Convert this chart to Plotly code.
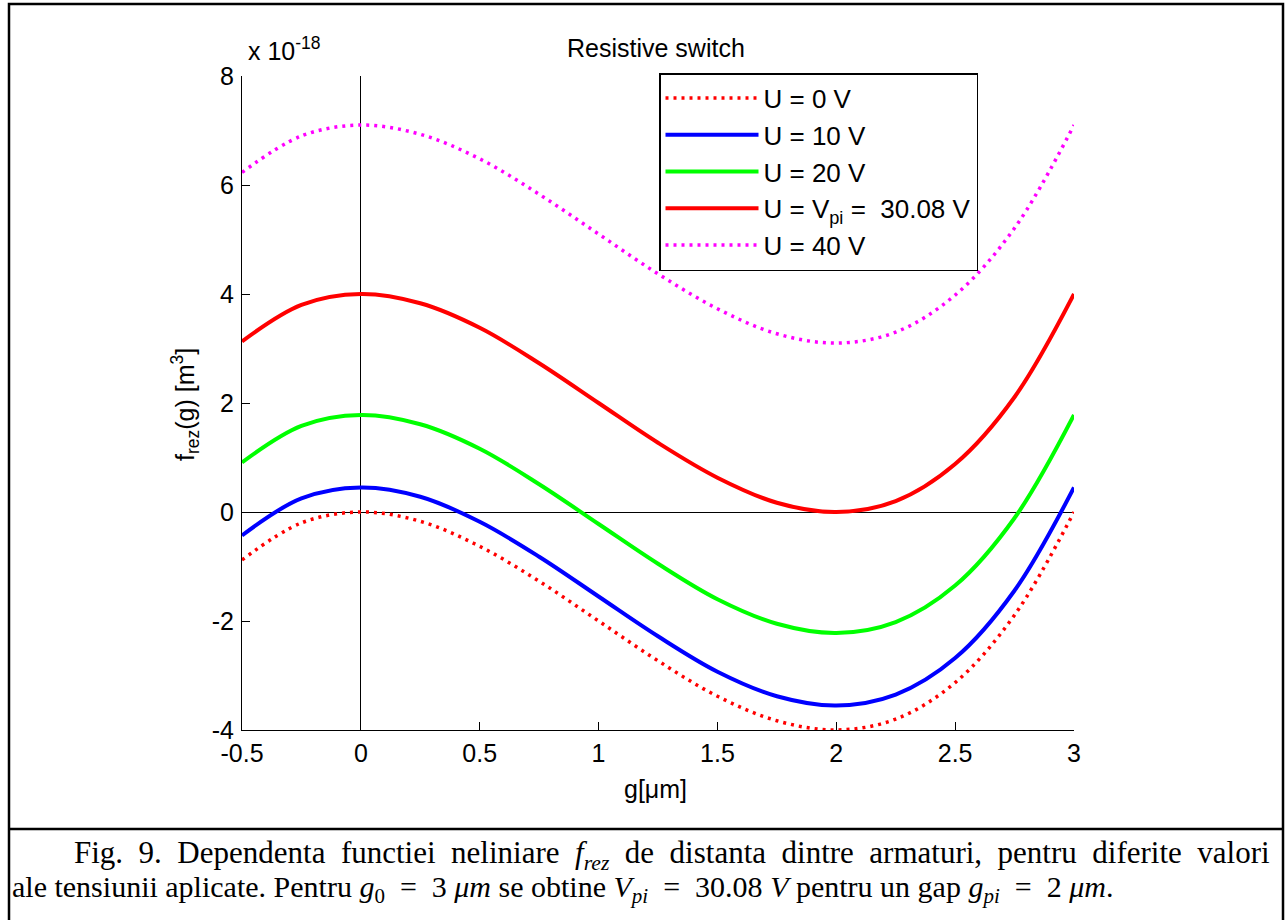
import plotly.graph_objects as go

# ---------------- data ----------------
g = [-0.5, -0.25, 0.0, 0.25, 0.5, 0.75, 1.0, 1.25, 1.5, 1.75, 2.0, 2.25, 2.5, 2.75, 3.0]

f_u0 = [-0.88, -0.20, 0.00, -0.17, -0.63, -1.27, -2.00, -2.73, -3.38, -3.83, -4.00, -3.80, -3.13, -1.89, 0.00]
f_u10 = [-0.43, 0.25, 0.45, 0.28, -0.18, -0.82, -1.55, -2.28, -2.93, -3.38, -3.55, -3.35, -2.68, -1.44, 0.45]
f_u20 = [0.91, 1.58, 1.78, 1.61, 1.16, 0.51, -0.22, -0.95, -1.60, -2.05, -2.22, -2.02, -1.35, -0.11, 1.78]
f_upi = [3.13, 3.80, 4.00, 3.83, 3.38, 2.73, 2.00, 1.27, 0.63, 0.17, 0.00, 0.20, 0.88, 2.11, 4.00]
f_u40 = [6.23, 6.90, 7.10, 6.93, 6.48, 5.83, 5.10, 4.37, 3.73, 3.27, 3.10, 3.30, 3.98, 5.21, 7.10]

series_names = ["U = 0 V", "U = 10 V", "U = 20 V", "U = V<sub>pi</sub> =  30.08 V", "U = 40 V"]
series_values = [f_u0, f_u10, f_u20, f_upi, f_u40]
series_colors = ["#ff0000", "#0000ff", "#00ff00", "#ff0000", "#ff00ff"]
series_dash = ["3px,5px", "solid", "solid", "solid", "3px,5px"]

x_ticks = [-0.5, 0, 0.5, 1, 1.5, 2, 2.5, 3]
x_ticklabels = ["-0.5", "0", "0.5", "1", "1.5", "2", "2.5", "3"]
y_ticks = [-4, -2, 0, 2, 4, 6, 8]
y_ticklabels = ["-4", "-2", "0", "2", "4", "6", "8"]

caption_line1 = ("Fig.  9.  Dependenta  functiei  neliniare  <i>f<sub>rez</sub></i>  de  distanta  "
                 "dintre  armaturi,  pentru  diferite  valori")
caption_line2 = ("ale tensiunii aplicate. Pentru <i>g</i><sub>0</sub>  =  3 <i>μm</i> se obtine "
                 "<i>V<sub>pi</sub></i>  =  30.08 <i>V</i> pentru un gap <i>g<sub>pi</sub></i>  =  2 <i>μm</i>.")

# ---------------- layout geometry ----------------
W, H = 1285, 920
L, R, T, B = 242, W - 1074, 76, H - 730


def px_x(px):
    return (px - L) / (W - L - R)


def px_y(py):
    return (H - B - py) / (H - T - B)


SANS = "Liberation Sans, Arial, sans-serif"
SERIF = "Liberation Serif, Times New Roman, serif"
FS = 25

fig = go.Figure()
for name, vals, col, dash in zip(series_names, series_values, series_colors, series_dash):
    fig.add_trace(go.Scatter(
        x=g, y=vals, mode="lines", name=name, legendgroup=name,
        line=dict(color=col, width=4 if dash == "solid" else 3.5, dash=dash,
                  shape="spline", smoothing=1.0),
    ))

fig.update_layout(
    width=W, height=H,
    margin=dict(l=L, r=R, t=T, b=B),
    paper_bgcolor="white", plot_bgcolor="white",
    font=dict(family=SANS, size=FS, color="black"),
    showlegend=True,
    legend=dict(
        x=px_x(659), y=px_y(73), xanchor="left", yanchor="top",
        bgcolor="white", bordercolor="black", borderwidth=1.5,
        font=dict(family=SANS, size=26, color="black"),
        traceorder="grouped", tracegroupgap=0, itemwidth=93,
    ),
    xaxis=dict(
        range=[-0.5, 3], tickmode="array", tickvals=x_ticks, ticktext=x_ticklabels,
        ticks="inside", ticklen=8, tickwidth=1, tickcolor="black",
        showline=True, linecolor="black", linewidth=1, mirror=False,
        showgrid=False, zeroline=True, zerolinecolor="black", zerolinewidth=1,
        tickfont=dict(family=SANS, size=FS), ticklabelstandoff=1,
    ),
    yaxis=dict(
        range=[-4, 8], tickmode="array", tickvals=y_ticks, ticktext=y_ticklabels,
        ticks="inside", ticklen=8, tickwidth=1, tickcolor="black",
        showline=True, linecolor="black", linewidth=1, mirror=False,
        showgrid=False, zeroline=True, zerolinecolor="black", zerolinewidth=1,
        tickfont=dict(family=SANS, size=FS), ticklabelstandoff=2,
    ),
)

annotations = [
    dict(text="Resistive switch", x=px_x(656), y=px_y(48), xanchor="center", yanchor="middle",
         font=dict(family=SANS, size=FS)),
    dict(text="x 10<sup>-18</sup>", x=px_x(246), y=px_y(67), xanchor="left", yanchor="bottom",
         font=dict(family=SANS, size=FS)),
    dict(text="f<sub>rez</sub>(g) [m<sup>3</sup>]", x=px_x(185), y=px_y(405), xanchor="center",
         yanchor="middle", textangle=-90, font=dict(family=SANS, size=FS)),
    dict(text="g[μm]", x=px_x(655), y=px_y(789), xanchor="center", yanchor="middle",
         font=dict(family=SANS, size=FS)),
    dict(text=caption_line1, x=px_x(72), y=px_y(855), xanchor="left", yanchor="middle",
         font=dict(family=SERIF, size=31)),
    dict(text=caption_line2, x=px_x(10), y=px_y(889), xanchor="left", yanchor="middle",
         font=dict(family=SERIF, size=30)),
]
for a in annotations:
    a.update(xref="paper", yref="paper", showarrow=False)
fig.update_layout(annotations=annotations)

# outer frame and caption separator
shapes = [
    dict(type="rect", x0=px_x(9), x1=px_x(1283), y0=px_y(4), y1=px_y(930),
         line=dict(color="black", width=2.5)),
    dict(type="line", x0=px_x(9), x1=px_x(1283), y0=px_y(829), y1=px_y(829),
         line=dict(color="black", width=2.5)),
]
for s in shapes:
    s.update(xref="paper", yref="paper", layer="above")
fig.update_layout(shapes=shapes)

fig.write_html("out.html")
